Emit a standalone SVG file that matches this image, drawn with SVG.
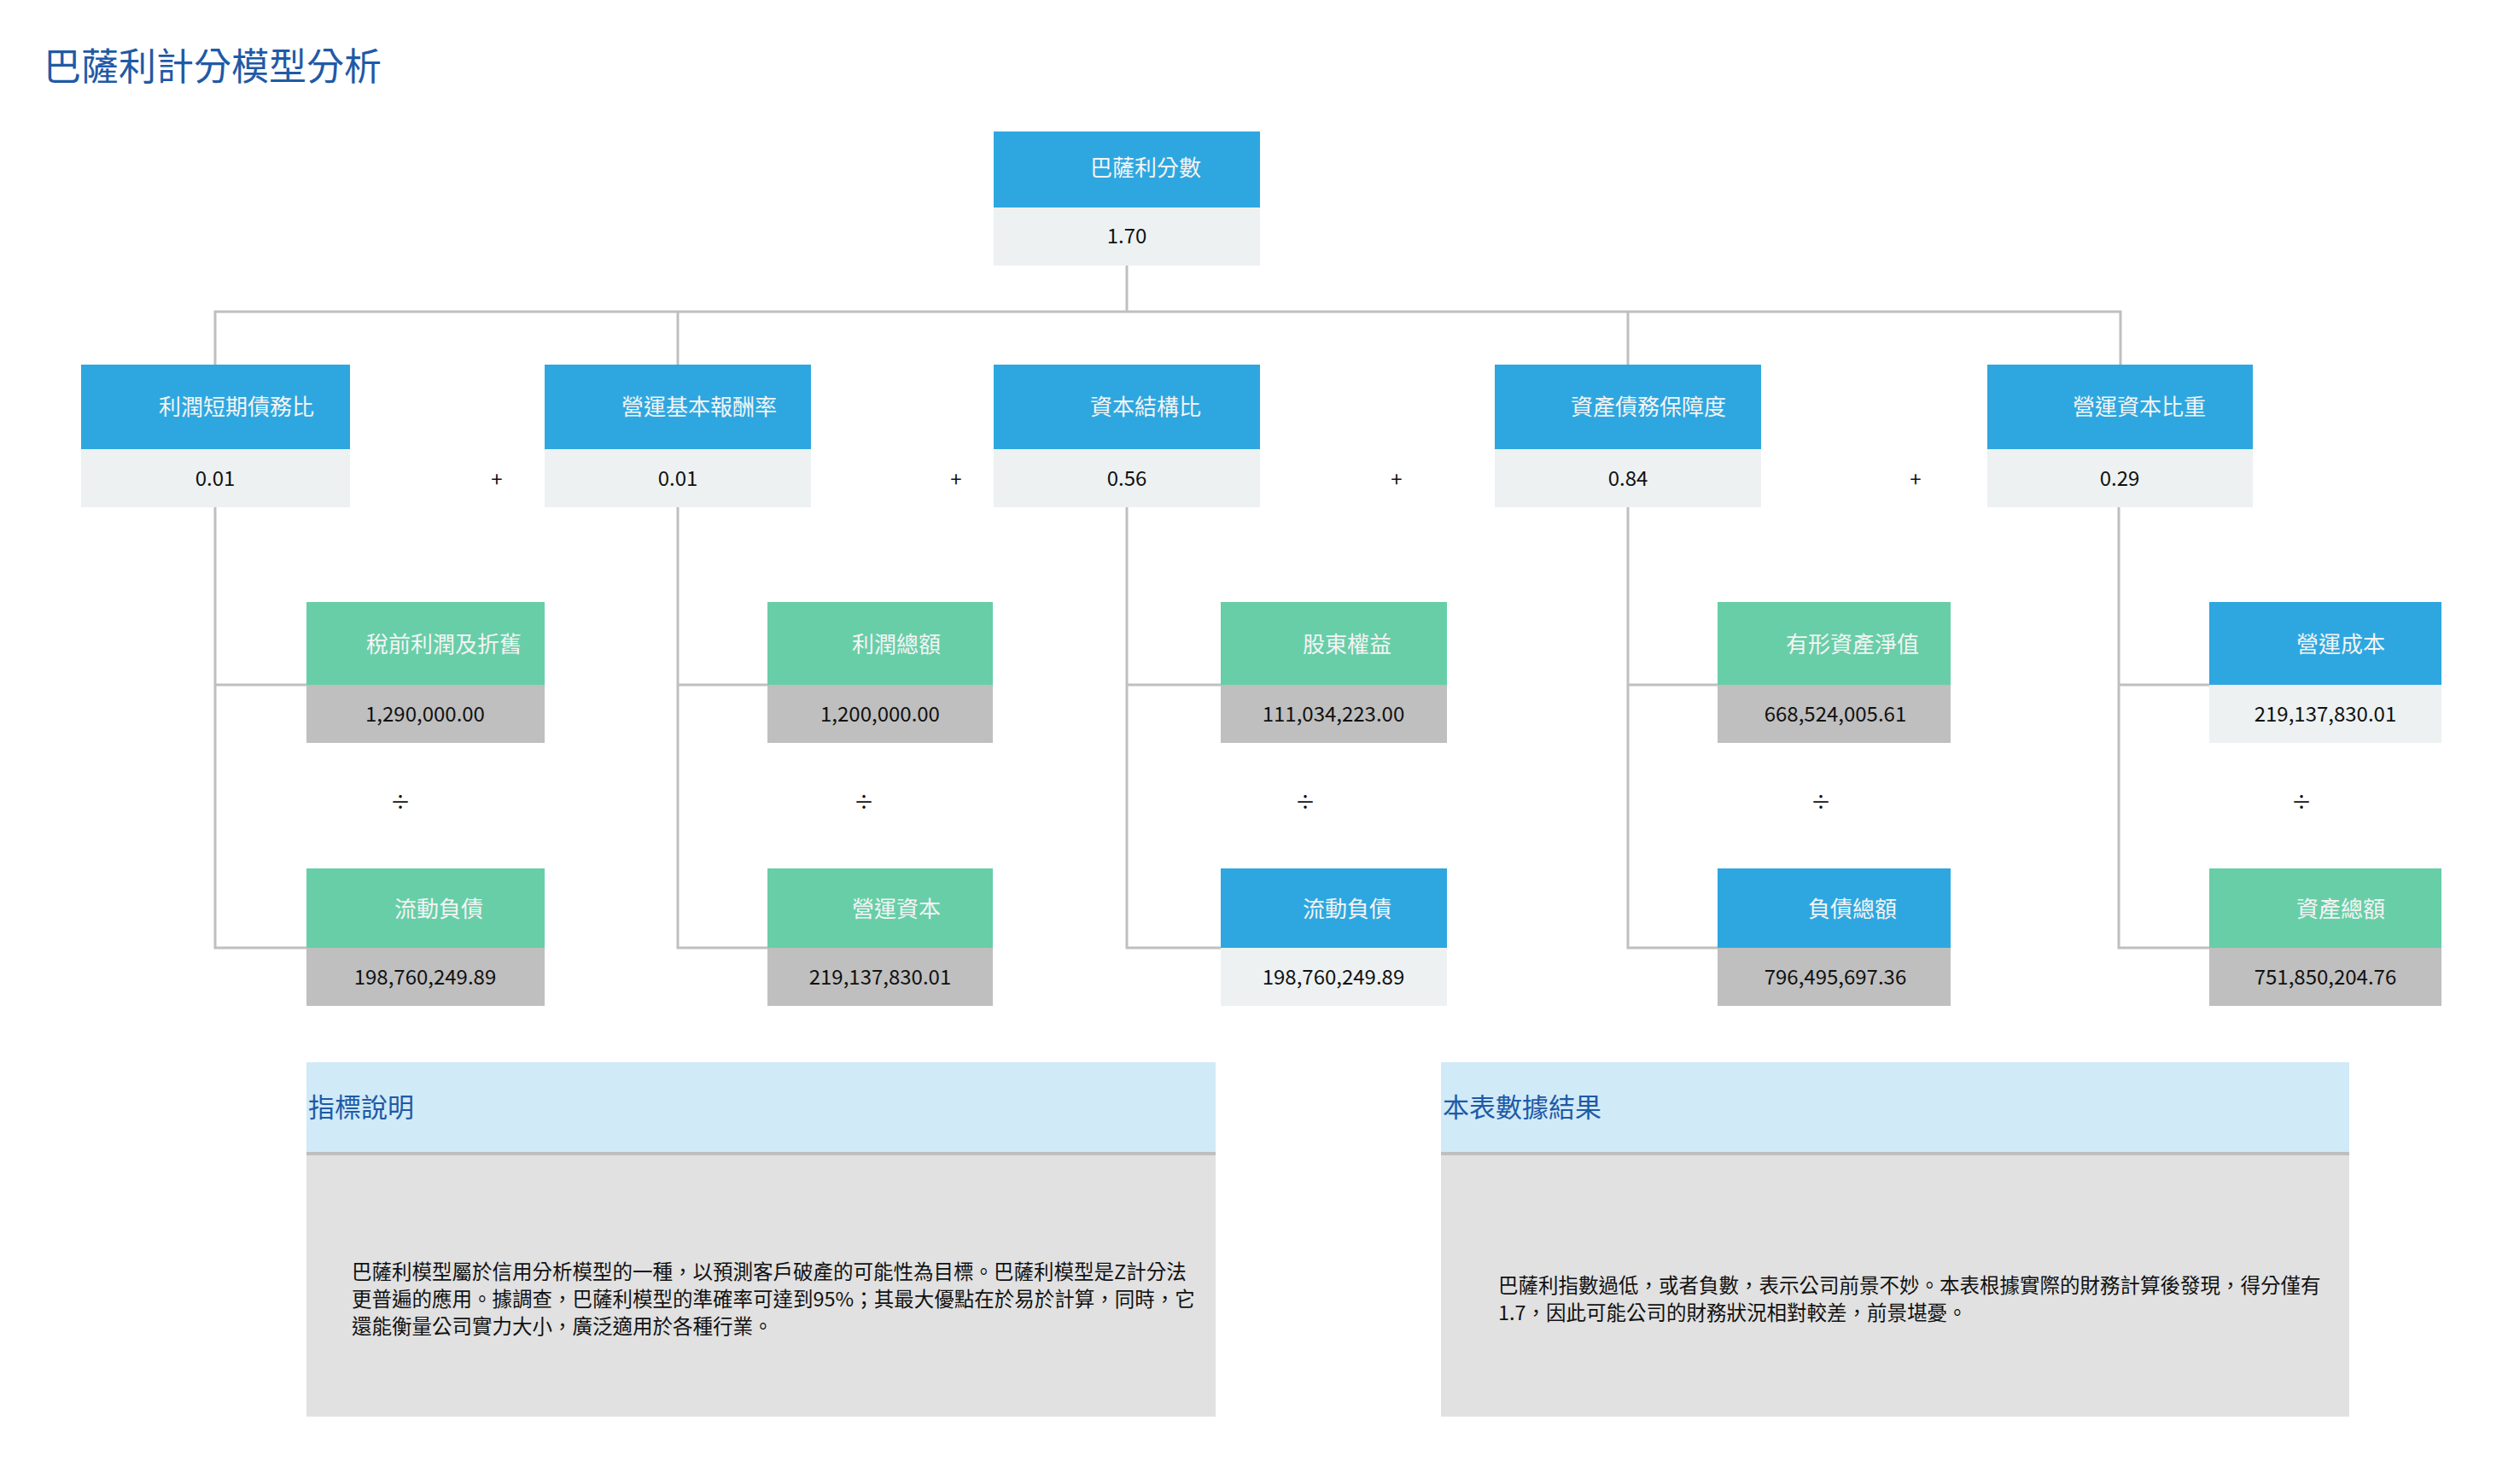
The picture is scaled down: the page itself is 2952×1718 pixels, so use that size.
<svg xmlns="http://www.w3.org/2000/svg" width="2952" height="1718" viewBox="0 0 2952 1718">
<style>
text{font-family:"Noto Sans CJK TC","Noto Sans",sans-serif}
.b{fill:#2ea7e0}.g{fill:#68cea8}.gr{fill:#bfbfbf}.lt{fill:#edf1f2}
.h{fill:#f4f4f4;font-size:26px;text-anchor:middle}
.v{fill:#111;font-size:24px;text-anchor:middle}
.op{fill:#111;font-size:24px;text-anchor:middle}
.c{fill:none;stroke:#bfbfbf;stroke-width:3}
.pt{fill:#1f5aa6;font-size:31px}
.bt{fill:#111;font-size:23.5px}
</style>
<rect width="2952" height="1718" fill="#fff"/>
<text x="51" y="94" style="fill:#1f5aa6;font-size:44px">巴薩利計分模型分析</text>
<g id="connectors" class="c">
<path d="M1320 311V365M252 427V365H2484V427M794 365V427M1907 365V427"/>
<path d="M252 594V1110H359M252 802H359"/>
<path d="M794 594V1110H899M794 802H899"/>
<path d="M1320 594V1110H1430M1320 802H1430"/>
<path d="M1907 594V1110H2012M1907 802H2012"/>
<path d="M2482 594V1110H2588M2482 802H2588"/>
</g>
<g id="root"><rect class="b" x="1164" y="154" width="312" height="89"/><rect class="lt" x="1164" y="243" width="312" height="68"/><text class="h" x="1342" y="206">巴薩利分數</text><text class="v" x="1320" y="285">1.70</text></g>
<g id="n1"><rect class="b" x="95" y="427" width="315" height="99"/><rect class="lt" x="95" y="526" width="315" height="68"/><text class="h" x="277" y="486">利潤短期債務比</text><text class="v" x="252" y="569">0.01</text></g>
<g id="n2"><rect class="b" x="638" y="427" width="312" height="99"/><rect class="lt" x="638" y="526" width="312" height="68"/><text class="h" x="819" y="486">營運基本報酬率</text><text class="v" x="794" y="569">0.01</text></g>
<g id="n3"><rect class="b" x="1164" y="427" width="312" height="99"/><rect class="lt" x="1164" y="526" width="312" height="68"/><text class="h" x="1342" y="486">資本結構比</text><text class="v" x="1320" y="569">0.56</text></g>
<g id="n4"><rect class="b" x="1751" y="427" width="312" height="99"/><rect class="lt" x="1751" y="526" width="312" height="68"/><text class="h" x="1931" y="486">資產債務保障度</text><text class="v" x="1907" y="569">0.84</text></g>
<g id="n5"><rect class="b" x="2328" y="427" width="311" height="99"/><rect class="lt" x="2328" y="526" width="311" height="68"/><text class="h" x="2506" y="486">營運資本比重</text><text class="v" x="2483" y="569">0.29</text></g>
<g id="ops">
<text class="op" x="582" y="570">+</text><text class="op" x="1120" y="570">+</text><text class="op" x="1636" y="570">+</text><text class="op" x="2244" y="570">+</text>
<text class="op" x="469" y="948">÷</text><text class="op" x="1012" y="948">÷</text><text class="op" x="1529" y="948">÷</text><text class="op" x="2133" y="948">÷</text><text class="op" x="2696" y="948">÷</text>
</g>
<g id="a1"><rect class="g" x="359" y="705" width="279" height="97"/><rect class="gr" x="359" y="802" width="279" height="68"/><text class="h" x="520" y="764">稅前利潤及折舊</text><text class="v" x="498" y="845">1,290,000.00</text></g>
<g id="a2"><rect class="g" x="359" y="1017" width="279" height="93"/><rect class="gr" x="359" y="1110" width="279" height="68"/><text class="h" x="514" y="1074">流動負債</text><text class="v" x="498" y="1153">198,760,249.89</text></g>
<g id="b1"><rect class="g" x="899" y="705" width="264" height="97"/><rect class="gr" x="899" y="802" width="264" height="68"/><text class="h" x="1050" y="764">利潤總額</text><text class="v" x="1031" y="845">1,200,000.00</text></g>
<g id="b2"><rect class="g" x="899" y="1017" width="264" height="93"/><rect class="gr" x="899" y="1110" width="264" height="68"/><text class="h" x="1050" y="1074">營運資本</text><text class="v" x="1031" y="1153">219,137,830.01</text></g>
<g id="c1"><rect class="g" x="1430" y="705" width="265" height="97"/><rect class="gr" x="1430" y="802" width="265" height="68"/><text class="h" x="1578" y="764">股東權益</text><text class="v" x="1562" y="845">111,034,223.00</text></g>
<g id="c2"><rect class="b" x="1430" y="1017" width="265" height="93"/><rect class="lt" x="1430" y="1110" width="265" height="68"/><text class="h" x="1578" y="1074">流動負債</text><text class="v" x="1562" y="1153">198,760,249.89</text></g>
<g id="d1"><rect class="g" x="2012" y="705" width="273" height="97"/><rect class="gr" x="2012" y="802" width="273" height="68"/><text class="h" x="2170" y="764">有形資產淨值</text><text class="v" x="2150" y="845">668,524,005.61</text></g>
<g id="d2"><rect class="b" x="2012" y="1017" width="273" height="93"/><rect class="gr" x="2012" y="1110" width="273" height="68"/><text class="h" x="2170" y="1074">負債總額</text><text class="v" x="2150" y="1153">796,495,697.36</text></g>
<g id="e1"><rect class="b" x="2588" y="705" width="272" height="97"/><rect class="lt" x="2588" y="802" width="272" height="68"/><text class="h" x="2742" y="764">營運成本</text><text class="v" x="2724" y="845">219,137,830.01</text></g>
<g id="e2"><rect class="g" x="2588" y="1017" width="272" height="93"/><rect class="gr" x="2588" y="1110" width="272" height="68"/><text class="h" x="2742" y="1074">資產總額</text><text class="v" x="2724" y="1153">751,850,204.76</text></g>
<g id="panel1"><rect x="359" y="1244" width="1065" height="105" fill="#d0eaf8"/><rect x="359" y="1349" width="1065" height="4" fill="#bfbfbf"/><rect x="359" y="1353" width="1065" height="306" fill="#e1e1e1"/>
<text class="pt" x="361" y="1308">指標說明</text>
<text class="bt" x="412" y="1498">巴薩利模型屬於信用分析模型的一種，以預測客戶破產的可能性為目標。巴薩利模型是Z計分法</text>
<text class="bt" x="412" y="1530">更普遍的應用。據調查，巴薩利模型的準確率可達到95%；其最大優點在於易於計算，同時，它</text>
<text class="bt" x="412" y="1562">還能衡量公司實力大小，廣泛適用於各種行業。</text></g>
<g id="panel2"><rect x="1688" y="1244" width="1064" height="105" fill="#d0eaf8"/><rect x="1688" y="1349" width="1064" height="4" fill="#bfbfbf"/><rect x="1688" y="1353" width="1064" height="306" fill="#e1e1e1"/>
<text class="pt" x="1690" y="1308">本表數據結果</text>
<text class="bt" x="1755" y="1514">巴薩利指數過低，或者負數，表示公司前景不妙。本表根據實際的財務計算後發現，得分僅有</text>
<text class="bt" x="1755" y="1546">1.7，因此可能公司的財務狀況相對較差，前景堪憂。</text></g>
</svg>
